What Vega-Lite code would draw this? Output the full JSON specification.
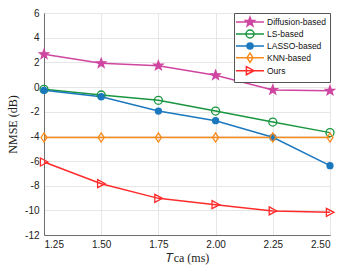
{
  "$schema": "https://vega.github.io/schema/vega-lite/v6.json",
  "width": 286,
  "height": 222,
  "autosize": {"type": "none"},
  "padding": {"left": 44, "top": 13, "right": 11, "bottom": 32},
  "background": "white",
  "config": {
    "view": {"stroke": "#6e6e6e", "strokeWidth": 1},
    "axis": {
      "domainColor": "#6e6e6e",
      "gridColor": "#e6e6e6",
      "ticks": false,
      "labelFont": "Liberation Sans",
      "labelFontSize": 10,
      "labelColor": "#222",
      "titleFont": "Liberation Serif",
      "titleFontWeight": "normal",
      "titleFontSize": 12,
      "titleColor": "#222"
    },
    "legend": {
      "orient": "top-right",
      "offset": 0,
      "title": null,
      "fillColor": "white",
      "strokeColor": "#555",
      "padding": 4,
      "labelFont": "Liberation Sans",
      "labelFontSize": 8.5,
      "labelColor": "#111",
      "symbolSize": 64,
      "symbolStrokeWidth": 1.5,
      "symbolOffset": 7,
      "labelOffset": 12,
      "rowPadding": -2.3
    }
  },
  "data": {
    "values": [
      {"method": "Diffusion-based", "t": 1.25, "nmse": 2.65},
      {"method": "Diffusion-based", "t": 1.5, "nmse": 1.92},
      {"method": "Diffusion-based", "t": 1.75, "nmse": 1.73},
      {"method": "Diffusion-based", "t": 2.0, "nmse": 0.95},
      {"method": "Diffusion-based", "t": 2.25, "nmse": -0.24},
      {"method": "Diffusion-based", "t": 2.5, "nmse": -0.3},
      {"method": "LS-based", "t": 1.25, "nmse": -0.19},
      {"method": "LS-based", "t": 1.5, "nmse": -0.65},
      {"method": "LS-based", "t": 1.75, "nmse": -1.08},
      {"method": "LS-based", "t": 2.0, "nmse": -1.95},
      {"method": "LS-based", "t": 2.25, "nmse": -2.84},
      {"method": "LS-based", "t": 2.5, "nmse": -3.7},
      {"method": "LASSO-based", "t": 1.25, "nmse": -0.27},
      {"method": "LASSO-based", "t": 1.5, "nmse": -0.79},
      {"method": "LASSO-based", "t": 1.75, "nmse": -1.95},
      {"method": "LASSO-based", "t": 2.0, "nmse": -2.73},
      {"method": "LASSO-based", "t": 2.25, "nmse": -4.08},
      {"method": "LASSO-based", "t": 2.5, "nmse": -6.38},
      {"method": "KNN-based", "t": 1.25, "nmse": -4.1},
      {"method": "KNN-based", "t": 1.5, "nmse": -4.1},
      {"method": "KNN-based", "t": 1.75, "nmse": -4.1},
      {"method": "KNN-based", "t": 2.0, "nmse": -4.1},
      {"method": "KNN-based", "t": 2.25, "nmse": -4.1},
      {"method": "KNN-based", "t": 2.5, "nmse": -4.1},
      {"method": "Ours", "t": 1.25, "nmse": -6.08},
      {"method": "Ours", "t": 1.5, "nmse": -7.84},
      {"method": "Ours", "t": 1.75, "nmse": -9.03},
      {"method": "Ours", "t": 2.0, "nmse": -9.54},
      {"method": "Ours", "t": 2.25, "nmse": -10.05},
      {"method": "Ours", "t": 2.5, "nmse": -10.16}
    ]
  },
  "encoding": {
    "x": {
      "field": "t",
      "type": "quantitative",
      "scale": {"domain": [1.25, 2.5], "nice": false, "zero": false},
      "axis": {
        "values": [1.25, 1.5, 1.75, 2.0, 2.25, 2.5],
        "format": ".2f",
        "labelPadding": 4,
        "title": "𝑇ca (ms)",
        "titlePadding": 3
      }
    },
    "y": {
      "field": "nmse",
      "type": "quantitative",
      "scale": {"domain": [-12, 6], "nice": false, "zero": false},
      "axis": {
        "values": [-12, -10, -8, -6, -4, -2, 0, 2, 4, 6],
        "labelExpr": "'' + datum.value",
        "labelPadding": 5,
        "title": "NMSE (dB)",
        "titlePadding": 5
      }
    }
  },
  "layer": [
    {
      "mark": {"type": "line", "strokeWidth": 1.5},
      "encoding": {
        "color": {
          "field": "method",
          "type": "nominal",
          "scale": {
            "domain": ["Diffusion-based", "LS-based", "LASSO-based", "KNN-based", "Ours"],
            "range": ["#CF45A0", "#18963F", "#1B78BE", "#F98B1C", "#FF2B2B"]
          }
        }
      }
    },
    {
      "transform": [{"filter": "datum.t > 100"}],
      "mark": {"type": "point", "filled": false, "strokeWidth": 1.5, "opacity": 1},
      "encoding": {
        "color": {
          "field": "method",
          "type": "nominal",
          "scale": {
            "domain": ["Diffusion-based", "LS-based", "LASSO-based", "KNN-based", "Ours"],
            "range": ["#CF45A0", "#18963F", "#1B78BE", "#F98B1C", "#FF2B2B"]
          }
        },
        "shape": {
          "field": "method",
          "type": "nominal",
          "scale": {
            "domain": ["Diffusion-based", "LS-based", "LASSO-based", "KNN-based", "Ours"],
            "range": [
              "M-3.5,0H3.5M0,-1.2L0.294,-0.405L1.141,-0.371L0.476,0.155L0.705,0.971L0,0.5L-0.705,0.971L-0.476,0.155L-1.141,-0.371L-0.294,-0.405Z",
              "M-3.5,0H3.5M-1,0A1,1 0 1,0 1,0A1,1 0 1,0 -1,0Z",
              "M-3.5,0H3.5M-0.75,0A0.75,0.75 0 1,0 0.75,0A0.75,0.75 0 1,0 -0.75,0Z",
              "M-3.5,0H3.5M0,-1.15L0.75,0L0,1.15L-0.75,0Z",
              "M-3.5,0H3.5M-0.9,-1L1,0L-0.9,1Z"
            ]
          }
        },
        "fill": {
          "field": "method",
          "type": "nominal",
          "scale": {
            "domain": ["Diffusion-based", "LS-based", "LASSO-based", "KNN-based", "Ours"],
            "range": ["#CF45A0", "transparent", "#1B78BE", "transparent", "transparent"]
          }
        }
      }
    },
    {
      "transform": [{"filter": "datum.method === 'Diffusion-based'"}],
      "mark": {"type": "point", "shape": "M0,-1.2L0.294,-0.405L1.141,-0.371L0.476,0.155L0.705,0.971L0,0.5L-0.705,0.971L-0.476,0.155L-1.141,-0.371L-0.294,-0.405Z", "size": 64, "stroke": "#CF45A0", "fill": "#CF45A0", "fillOpacity": 1, "strokeWidth": 1.3, "opacity": 1}
    },
    {
      "transform": [{"filter": "datum.method === 'LS-based'"}],
      "mark": {"type": "point", "shape": "M-1,0A1,1 0 1,0 1,0A1,1 0 1,0 -1,0Z", "size": 64, "stroke": "#18963F", "fill": "transparent", "strokeWidth": 1.3, "opacity": 1}
    },
    {
      "transform": [{"filter": "datum.method === 'LASSO-based'"}],
      "mark": {"type": "point", "shape": "M-0.75,0A0.75,0.75 0 1,0 0.75,0A0.75,0.75 0 1,0 -0.75,0Z", "size": 64, "stroke": "#1B78BE", "fill": "#1B78BE", "fillOpacity": 1, "strokeWidth": 1.3, "opacity": 1}
    },
    {
      "transform": [{"filter": "datum.method === 'KNN-based'"}],
      "mark": {"type": "point", "shape": "M0,-1.15L0.75,0L0,1.15L-0.75,0Z", "size": 64, "stroke": "#F98B1C", "fill": "transparent", "strokeWidth": 1.3, "opacity": 1}
    },
    {
      "transform": [{"filter": "datum.method === 'Ours'"}],
      "mark": {"type": "point", "shape": "M-0.9,-1L1,0L-0.9,1Z", "size": 64, "stroke": "#FF2B2B", "fill": "transparent", "strokeWidth": 1.3, "opacity": 1}
    }
  ]
}
